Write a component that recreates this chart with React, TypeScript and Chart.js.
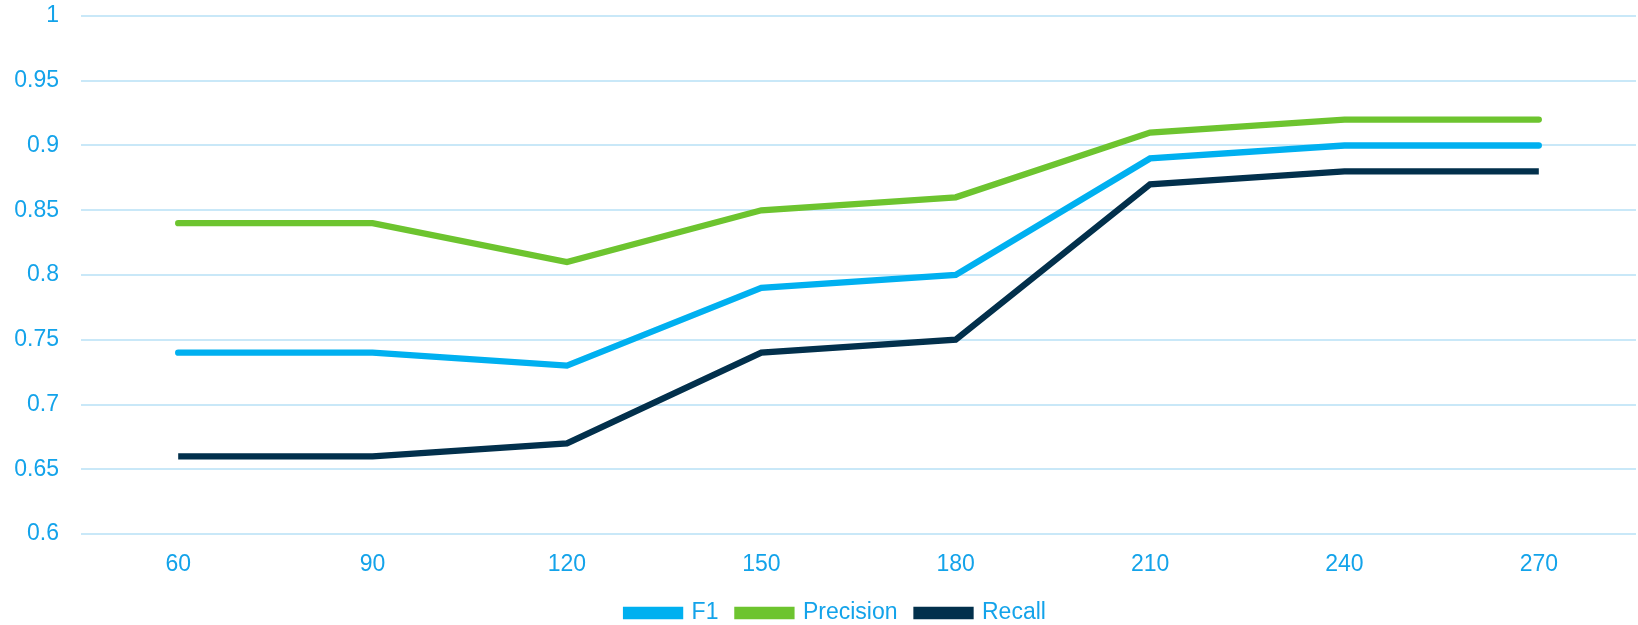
import React, { useEffect, useRef } from "react";
import { Chart, registerables } from "chart.js";

Chart.register(...registerables);

const categories = ["60", "90", "120", "150", "180", "210", "240", "270"];
const f1Values = [0.74, 0.74, 0.73, 0.79, 0.8, 0.89, 0.9, 0.9];
const precisionValues = [0.84, 0.84, 0.81, 0.85, 0.86, 0.91, 0.92, 0.92];
const recallValues = [0.66, 0.66, 0.67, 0.74, 0.75, 0.87, 0.88, 0.88];

const TICK_COLOR = "#13A3EA";
const GRID_COLOR = "#C9E8F8";
const FONT = "'Liberation Sans', Arial, sans-serif";

const legendShift = {
  id: "legendShift",
  afterLayout(chart: any) {
    const lg = chart.legend;
    if (lg) {
      lg.left += 18;
      lg.right += 18;
      lg.top += 6.5;
      lg.bottom += 6.5;
    }
  },
};

export default function App() {
  const ref = useRef<HTMLCanvasElement | null>(null);

  useEffect(() => {
    if (!ref.current) return;
    const chart = new Chart(ref.current, {
      type: "line",
      data: {
        labels: categories,
        datasets: [
          {
            label: "F1",
            data: f1Values,
            borderColor: "#00B0F0",
            backgroundColor: "#00B0F0",
            borderWidth: 6.3,
            borderCapStyle: "round",
            pointRadius: 0,
            tension: 0,
          },
          {
            label: "Precision",
            data: precisionValues,
            borderColor: "#6DC42F",
            backgroundColor: "#6DC42F",
            borderWidth: 6.3,
            borderCapStyle: "round",
            pointRadius: 0,
            tension: 0,
          },
          {
            label: "Recall",
            data: recallValues,
            borderColor: "#02304C",
            backgroundColor: "#02304C",
            borderWidth: 6.3,
            borderCapStyle: "butt",
            pointRadius: 0,
            tension: 0,
          },
        ],
      },
      plugins: [legendShift],
      options: {
        animation: false,
        responsive: false,
        maintainAspectRatio: false,
        layout: { padding: { top: 16, right: 2, bottom: -3, left: 0 } },
        plugins: {
          tooltip: { enabled: false },
          legend: {
            position: "bottom",
            labels: {
              boxWidth: 54,
              boxHeight: 6,
              padding: 19,
              color: TICK_COLOR,
              font: { family: FONT, size: 23 },
            },
          },
        },
        scales: {
          x: {
            offset: true,
            grid: { display: false, drawTicks: false },
            border: { display: false },
            afterFit: (scale: any) => {
              scale.height = 42;
            },
            ticks: {
              color: TICK_COLOR,
              font: { family: FONT, size: 23, lineHeight: 1 },
              padding: 19,
              maxRotation: 0,
            },
          },
          y: {
            min: 0.6,
            max: 1,
            afterFit: (scale: any) => {
              scale.width = 81;
              scale.paddingTop = 0;
              scale.paddingBottom = 0;
            },
            grid: { color: GRID_COLOR, lineWidth: 2, drawTicks: false },
            border: { display: false },
            ticks: {
              stepSize: 0.05,
              color: TICK_COLOR,
              font: { family: FONT, size: 23 },
              padding: 22,
              callback: (v: any) => String(Math.round(Number(v) * 100) / 100),
            },
          },
        },
      },
    });
    return () => chart.destroy();
  }, []);

  return (
    <div style={{ position: "fixed", left: 0, top: 0, width: 1638, height: 625, background: "#fff" }}>
      <canvas ref={ref} width={1638} height={625} />
    </div>
  );
}
